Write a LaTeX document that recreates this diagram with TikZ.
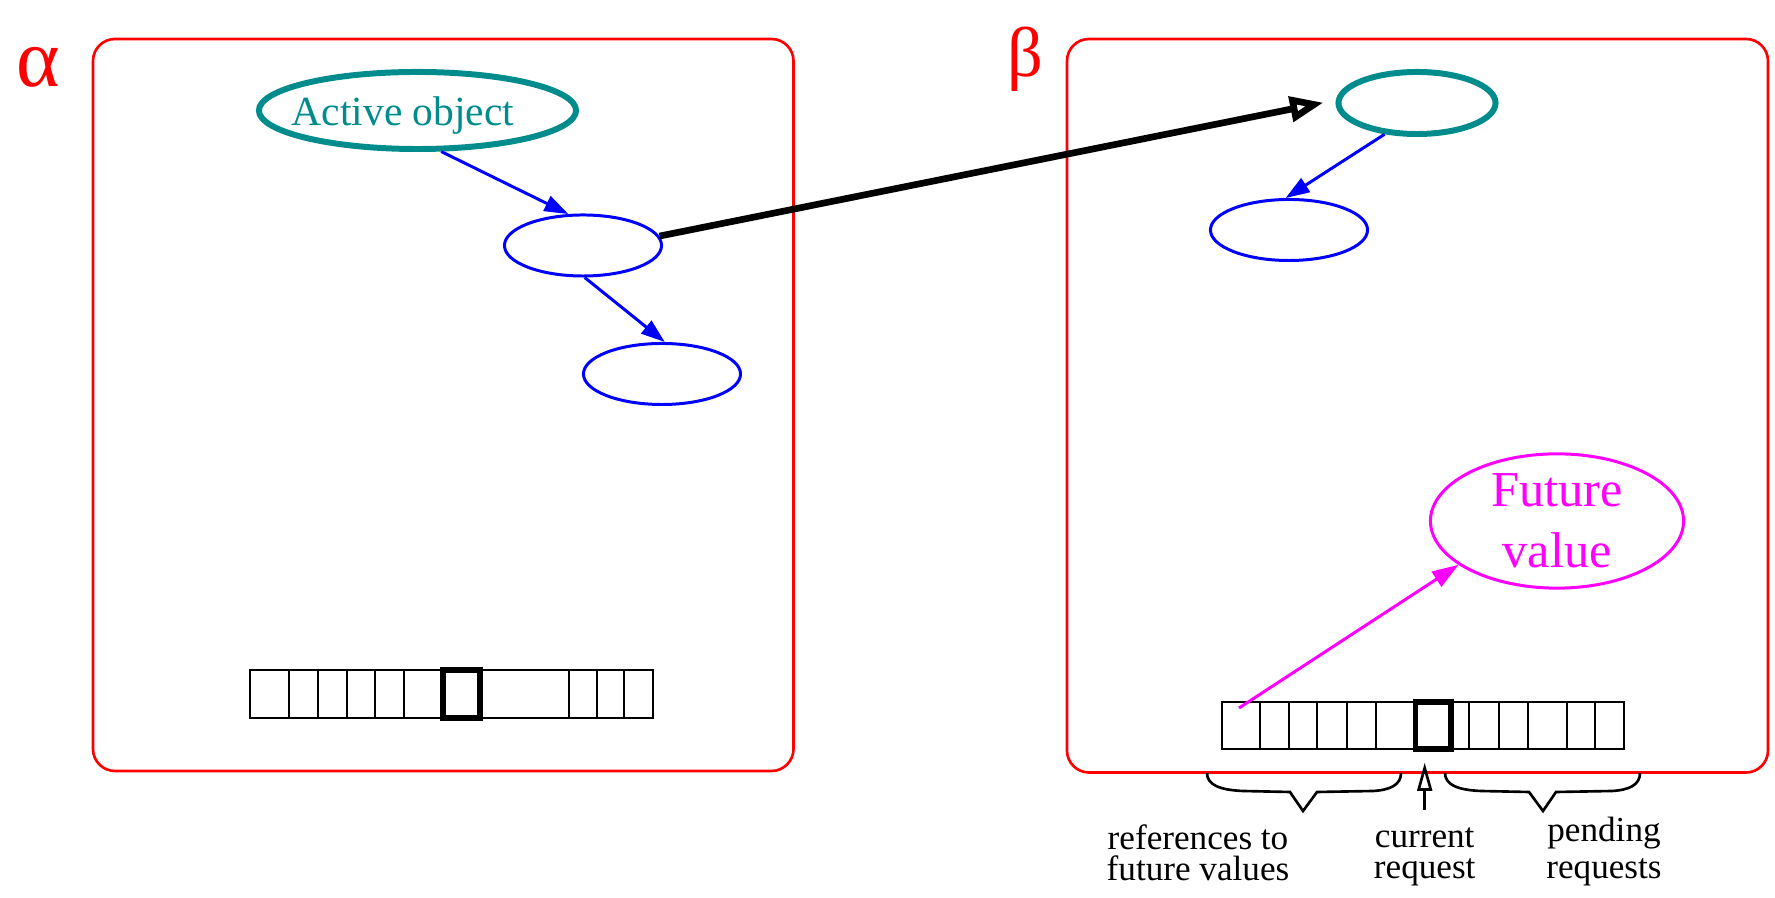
\documentclass[tikz,border=0pt]{standalone}
\usepackage{fontspec}
\setmainfont{Liberation Serif}
\usetikzlibrary{arrows.meta,shapes.geometric}

\definecolor{objteal}{RGB}{0,140,140}
\definecolor{futmag}{RGB}{255,0,255}

\begin{document}
\begin{tikzpicture}[
        x=0.01cm, y=-0.01cm,
        procbox/.style={draw=red, line width=0.75pt, rounded corners=0.22cm},
        procname/.style={text=red, inner sep=0pt},
        active/.style={ellipse, draw=objteal, line width=1.7pt, inner sep=0pt},
        passive/.style={ellipse, draw=blue, line width=0.85pt, inner sep=0pt,
            minimum width=1.57cm, minimum height=0.61cm},
        future/.style={ellipse, draw=futmag, line width=0.85pt, inner sep=0pt,
            minimum width=2.53cm, minimum height=1.15cm},
        ref/.style={draw=blue, line width=0.85pt, -{Triangle[length=6.8pt, width=4.6pt]}},
        remote/.style={draw, line width=1.9pt, -{Triangle[open, length=9.5pt, width=7pt]}},
        futref/.style={draw=futmag, line width=0.85pt, -{Triangle[length=7.5pt, width=5pt]}},
        cell/.style={draw, line width=0.8pt},
        current/.style={rectangle, draw, line width=1.5pt, inner sep=0pt},
        brace/.style={draw, line width=0.75pt},
        note/.style={align=center, inner sep=0pt, anchor=north,
            font=\fontsize{10pt}{8.8pt}\selectfont}
    ]
    \useasboundingbox (0,0) rectangle (1775,898);

    % the two activities
    \draw [procbox] (93,39) rectangle (793.5,771);
    \draw [procbox] (1067,39) rectangle (1768,772.5);
    \node [procname, font=\fontsize{23.6pt}{24pt}\selectfont] (alpha) at (38.5,67.5) {α};
    \node [procname, font=\fontsize{20pt}{21pt}\selectfont] (beta) at (1025.5,59.5) {β};

    % objects in alpha
    \node [active, minimum width=3.17cm, minimum height=0.77cm,
        label={[text=objteal, font=\fontsize{11.8pt}{12pt}\selectfont,
            xshift=-0.145cm, yshift=-0.05cm]center:Active object}] (act) at (417.5,110.5) {};
    \node [passive] (objA) at (583,245.5) {};
    \node [passive] (objB) at (662,374) {};

    % objects in beta
    \node [active, minimum width=1.57cm, minimum height=0.62cm] (actB) at (1417,103) {};
    \node [passive] (objC) at (1289,230) {};
    \node [future, text=futmag, align=center,
        font=\fontsize{14.3pt}{17.5pt}\selectfont] (fut) at (1557,521) {Future\\value};

    \path [ref] (act.-60) -- (objA.115);
    \path [ref] (objA.-87) -- (objB.85);
    \path [ref] (actB.-136) -- (objC.96);
    \path [remote, shorten >=0.125cm] (objA.7) -- (actB.178);

    % request queues
    \draw [cell] (250,670) rectangle (653,718);
    \foreach \x in {289,318,347,375,404,569,597,624}
        \draw [cell] (\x,670) -- (\x,718);
    \node [current, minimum width=0.37cm, minimum height=0.48cm] (curA) at (461.5,694) {};

    \draw [cell] (1222,702) rectangle (1624,749);
    \foreach \x in {1260,1289,1317,1347,1376,1469,1499,1528,1567,1595}
        \draw [cell] (\x,702) -- (\x,749);
    \node [current, minimum width=0.355cm, minimum height=0.47cm] (curB) at (1433.3,725.5) {};

    \coordinate (qref) at (1239,708);
    \path [futref] (qref) -- (fut.-156);

    % braces and notes under the queue
    \draw [brace] (1207,773) .. controls (1207,785) and (1220,790) .. (1243,791)
        -- (1290,792) -- (1303,811) -- (1317,792) -- (1373,791)
        .. controls (1390,790) and (1401,785) .. (1401,773);
    \draw [brace] (1445,773) .. controls (1445,785) and (1458,790) .. (1481,791)
        -- (1529,792) -- (1543,811) -- (1556,792) -- (1612,791)
        .. controls (1629,790) and (1640,785) .. (1640,773);

    \node [note] (refs) at (1198,824) {references to\\future values};
    \node [note] (curlbl) at (1424.7,827) {current\\request};
    \node [note, font=\fontsize{10pt}{10.5pt}\selectfont] (pend) at (1604,816) {pending\\requests};

    \draw [line width=0.75pt, -{Triangle[open, length=8pt, width=4.2pt]},
        shorten <=0.17cm, shorten >=0.11cm] (curlbl.north) -- (curlbl.north |- curB.south);
\end{tikzpicture}
\end{document}
